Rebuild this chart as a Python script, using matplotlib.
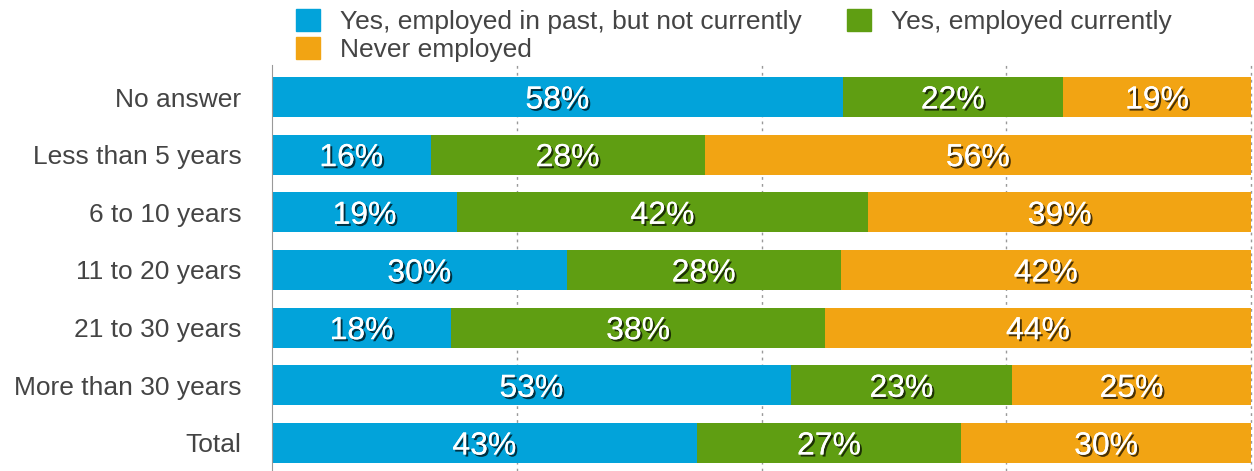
import matplotlib.pyplot as plt
import matplotlib.patheffects as pe
from matplotlib.patches import Patch

plt.rcParams['font.family'] = ['Liberation Sans', 'DejaVu Sans']

categories = ["No answer", "Less than 5 years", "6 to 10 years", "11 to 20 years",
              "21 to 30 years", "More than 30 years", "Total"]
past = [58.3, 16.2, 18.9, 30.1, 18.3, 53.0, 43.4]
current = [22.5, 28.0, 42.0, 28.0, 38.2, 22.6, 27.0]
never = [19.2, 55.8, 39.1, 41.9, 43.5, 24.4, 29.6]
past_labels = ["58%", "16%", "19%", "30%", "18%", "53%", "43%"]
current_labels = ["22%", "28%", "42%", "28%", "38%", "23%", "27%"]
never_labels = ["19%", "56%", "39%", "42%", "44%", "25%", "30%"]

series_names = ["Yes, employed in past, but not currently", "Yes, employed currently",
                "Never employed"]
colors = ["#02A3DA", "#5F9E12", "#F2A413"]

fig = plt.figure(figsize=(12.54, 4.71), dpi=100)
ax = fig.add_axes([272 / 1254, 0, 1 - 272 / 1254, 1 - 65 / 471])

ypos = list(range(len(categories)))
shadow = [pe.withSimplePatchShadow(offset=(1.5, -1.5), shadow_rgbFace="black", alpha=0.7),
          pe.Normal()]

left = [0] * len(categories)
for vals, labels, col in zip([past, current, never],
                             [past_labels, current_labels, never_labels], colors):
    bars = ax.barh(ypos, vals, left=left, height=0.69, color=col, zorder=2)
    for b, lab in zip(bars, labels):
        t = ax.text(b.get_x() + b.get_width() / 2, b.get_y() + b.get_height() / 2, lab,
                    ha="center", va="center_baseline", color="white", fontsize=23, zorder=3)
        t.set_path_effects(shadow)
    left = [l + v for l, v in zip(left, vals)]

ax.set_xlim(0, 100.3)
ax.set_ylim(6.486, -0.555)
ax.set_yticks(ypos)
ax.set_yticklabels(categories, fontsize=19, color="#444444")
ax.tick_params(axis="y", length=0, pad=22)
ax.set_xticks([25, 50, 75, 100])
ax.tick_params(axis="x", length=0, labelbottom=False)
ax.grid(axis="x", color="#999999", linestyle=(0, (2, 3)), linewidth=1, zorder=0)
for s in ["top", "right", "bottom"]:
    ax.spines[s].set_visible(False)
ax.spines["left"].set_color("#999999")

# legend: column-major fill, so blue/orange go in the first column
handles = [Patch(color=colors[0]), Patch(color=colors[2]), Patch(color=colors[1])]
names = [series_names[0], series_names[2], series_names[1]]
fig.legend(handles, names, ncol=2, loc="upper left", bbox_to_anchor=(296 / 1254, 1 - 9 / 471),
           frameon=False, fontsize=19, handlelength=0.91, handleheight=0.91,
           handletextpad=0.76, columnspacing=1.7, labelspacing=0.1, borderpad=0,
           borderaxespad=0, labelcolor="#444444")

fig.savefig("out.png", dpi=100)
